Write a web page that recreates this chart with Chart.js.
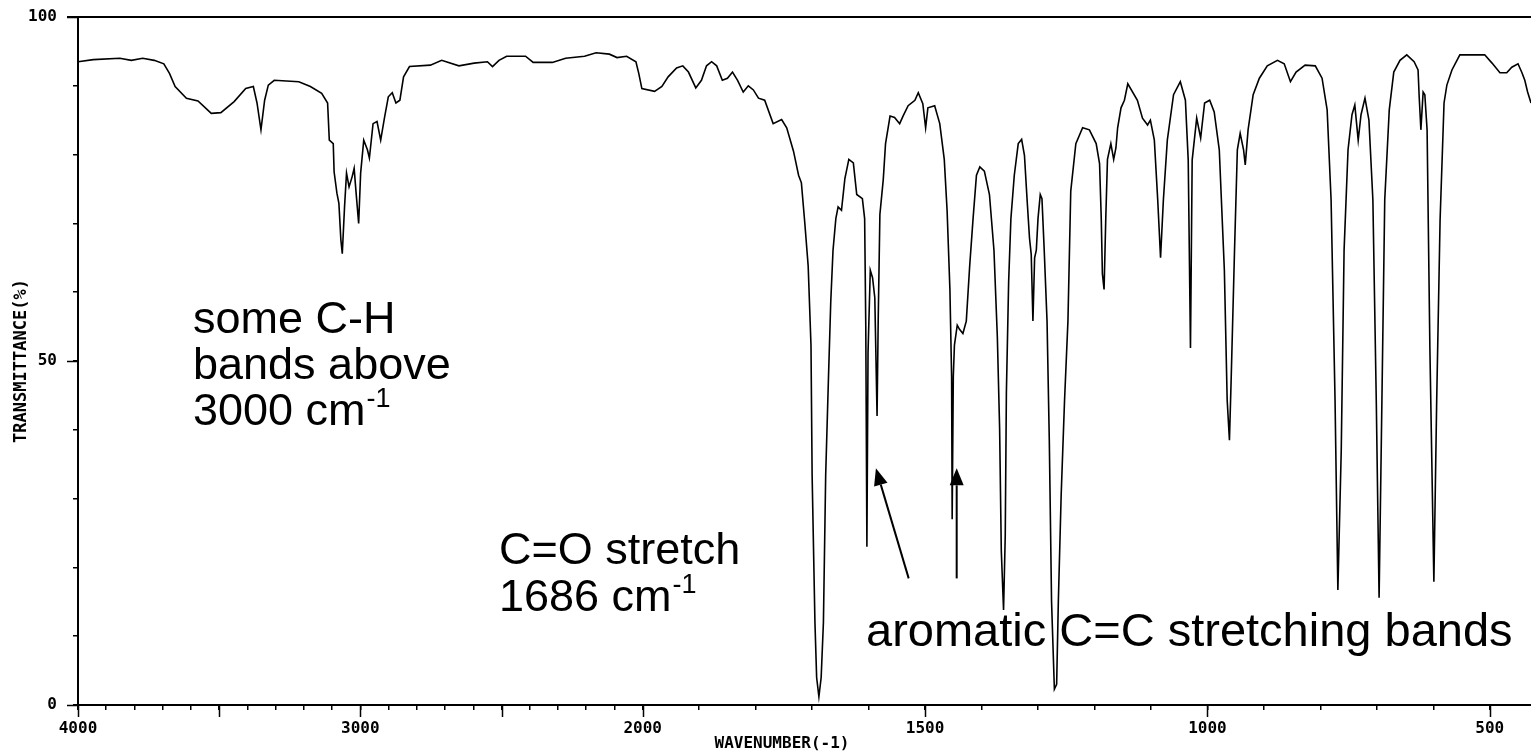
<!DOCTYPE html>
<html><head><meta charset="utf-8">
<script src="https://cdn.jsdelivr.net/npm/chart.js@4.4.1/dist/chart.umd.min.js"></script>
<style>html,body{margin:0;padding:0;background:#fff;overflow:hidden}</style>
</head><body>
<canvas id="c" width="1531" height="754"></canvas>
<script>
// ---- data ----
const wavenumbers = [4000,3946,3852,3811,3771,3730,3696,3676,3656,3616,3575,3528,3494,3447,3406,3379,3366,3352,3339,3326,3305,3218,3177,3137,3116,3110,3096,3093,3083,3076,3069,3064,3056,3049,3040,3029,3022,3015,3006,2999,2988,2975,2968,2955,2941,2928,2914,2901,2887,2874,2860,2847,2826,2752,2712,2651,2597,2550,2532,2509,2482,2415,2388,2320,2273,2206,2165,2118,2091,2057,2024,2014,2003,1979,1966,1955,1940,1929,1919,1906,1896,1887,1878,1869,1859,1850,1841,1832,1822,1813,1804,1795,1784,1769,1754,1745,1733,1724,1719,1713,1707,1702,1700,1695,1692,1688,1684,1680,1676,1671,1667,1663,1658,1654,1648,1642,1635,1627,1621,1611,1607,1605,1603,1601,1597,1593,1589,1585,1583,1580,1574,1570,1562,1554,1545,1539,1530,1518,1512,1504,1499,1495,1483,1474,1466,1461,1456,1453,1452,1450,1448,1443,1439,1433,1427,1421,1415,1409,1403,1395,1386,1378,1372,1368,1365,1361,1358,1356,1352,1348,1342,1335,1329,1324,1319,1315,1312,1309,1306,1303,1300,1296,1293,1289,1284,1280,1276,1271,1267,1264,1259,1253,1247,1242,1233,1221,1209,1197,1191,1188,1186,1183,1180,1177,1171,1166,1162,1159,1153,1147,1141,1124,1115,1106,1101,1094,1088,1083,1078,1071,1060,1048,1039,1034,1030,1027,1019,1012,1005,996,988,979,970,965,961,958,952,947,942,936,933,928,919,908,894,876,864,853,843,827,809,797,788,781,774,769,763,758,751,744,739,733,728,721,714,707,701,696,691,686,678,670,659,647,634,627,625,622,618,615,611,606,599,594,588,581,576,567,553,509,496,482,470,461,450,443,438,433,427];
const transmittance = [93.5,93.8,94.0,93.7,94.0,93.7,93.2,91.8,89.9,88.2,87.8,86.0,86.1,87.7,89.6,89.9,87.5,83.6,87.9,90.1,90.8,90.6,89.9,88.9,87.5,82.1,81.6,77.5,74.4,72.9,67.6,65.6,72.4,77.3,75.3,76.8,78.0,74.4,70.0,77.3,82.1,80.7,79.5,84.5,84.8,82.1,85.5,88.4,89.0,87.5,87.9,91.3,92.8,93.0,93.7,92.9,93.3,93.5,92.8,93.7,94.3,94.3,93.4,93.4,94.0,94.3,94.8,94.6,94.1,94.3,93.5,91.8,89.6,89.2,89.9,91.3,92.6,92.9,92.0,89.7,90.8,92.9,93.5,92.9,90.8,91.1,92.0,90.8,89.1,90.0,89.4,88.2,87.9,84.5,85.1,83.9,80.5,77.0,75.9,70.1,63.8,52.3,33.4,12.0,4.0,1.2,4.0,12.0,33.4,47.7,58.6,66.1,70.7,72.4,71.9,76.5,79.3,78.8,74.2,73.6,70.7,55.2,23.0,51.2,63.2,62.1,59.2,42.0,55.8,71.3,76.4,81.6,85.6,85.4,84.5,85.6,87.1,87.9,89.0,87.4,83.9,86.8,87.1,84.5,79.3,71.9,60.4,47.7,27.0,47.7,52.3,55.2,54.6,54.0,55.8,63.8,70.7,77.0,78.2,77.6,74.2,66.1,53.5,40.3,22.4,13.8,24.7,45.4,61.5,70.7,77.0,81.6,82.2,79.9,73.0,67.8,65.5,55.8,65.0,66.1,70.7,74.2,73.6,66.1,55.8,38.5,15.0,2.3,3.0,15.0,30.5,44.3,55.8,74.7,81.6,83.9,83.6,81.6,78.7,70.7,62.7,60.4,70.7,79.3,81.6,79.3,81.0,83.9,86.8,87.9,90.3,87.9,85.3,84.3,85.0,82.1,73.4,65.0,73.4,82.1,88.7,90.6,87.9,79.2,51.9,79.2,85.3,82.4,87.5,87.9,86.2,80.7,63.2,44.3,38.5,47.2,66.1,80.7,83.1,80.7,78.5,83.6,88.7,91.1,92.9,93.7,93.2,90.6,92.0,93.0,92.9,91.1,86.5,73.4,44.3,16.7,37.1,66.1,80.7,85.8,87.2,82.1,85.8,88.2,85.0,73.4,44.3,15.6,44.3,73.4,86.5,92.0,93.7,94.5,93.5,92.3,88.4,83.6,89.1,88.7,83.6,51.6,17.9,44.3,70.5,87.5,90.1,92.3,94.5,94.5,93.3,91.9,91.9,92.7,93.2,91.9,90.8,89.1,87.5];
const xTickWavenumbers = [4000,3900,3800,3700,3600,3500,3400,3300,3200,3100,3000,2900,2800,2700,2600,2500,2400,2300,2200,2100,2000,1900,1800,1700,1600,1500,1400,1300,1200,1100,1000,900,800,700,600,500];
const xLabelledWavenumbers = [4000,3000,2000,1500,1000,500];
const xLongTickWavenumbers = [4000,3500,3000,2500,2000,1500,1000,500];
const yTickValues = [0,10,20,30,40,50,60,70,80,90,100];
const yLabelledValues = [0,50,100];
const xAxisTitle = 'WAVENUMBER(-1)';
const yAxisTitle = 'TRANSMITTANCE(%)';
const annotationLines = [
  {text: 'some C-H', sup: '', px: 193, py: 333, size: 45},
  {text: 'bands above', sup: '', px: 193, py: 379, size: 45},
  {text: '3000 cm', sup: '-1', px: 193, py: 425, size: 45},
  {text: 'C=O stretch', sup: '', px: 499, py: 564, size: 45},
  {text: '1686 cm', sup: '-1', px: 499, py: 611, size: 45},
  {text: 'aromatic C=C stretching bands', sup: '', px: 866, py: 646, size: 47}
];
// arrows in data units (wavenumber, %T): tail -> head
const arrows = [
  {fromW: 1529, fromT: 18.4, toW: 1587, toT: 34.4},
  {fromW: 1444, fromT: 18.4, toW: 1444, toT: 34.4}
];

// the wavenumber axis is compressed by 2 above 2000 cm-1
const toAxis = w => w > 2000 ? 2000 + (w - 2000) / 2 : w;
const fromAxis = t => t > 2000 ? 2000 + (t - 2000) * 2 : t;

const points = wavenumbers.map((w, i) => ({x: toAxis(w), y: transmittance[i]}));
const tickFont = {family: 'DejaVu Sans Mono', size: 16, weight: 'bold'};

const extras = {
  id: 'extras',
  afterDraw(chart) {
    const {ctx, chartArea: ca, scales: {x, y}} = chart;
    ctx.save();
    ctx.strokeStyle = '#000';
    ctx.lineWidth = 1.5;
    ctx.beginPath();
    xLongTickWavenumbers.forEach(w => {
      const px = Math.round(x.getPixelForValue(toAxis(w))) + 0.5;
      ctx.moveTo(px, ca.bottom); ctx.lineTo(px, ca.bottom + 12);
    });
    yLabelledValues.forEach(v => {
      const py = Math.round(y.getPixelForValue(v)) + 0.5;
      ctx.moveTo(ca.left - 11, py); ctx.lineTo(ca.left, py);
    });
    ctx.stroke();
    ctx.lineWidth = 2;
    ctx.beginPath();
    ctx.moveTo(ca.left - 11, ca.top); ctx.lineTo(ca.right, ca.top);
    ctx.stroke();
    ctx.fillStyle = '#000';
    ctx.font = 'bold 16px "DejaVu Sans Mono"';
    ctx.textAlign = 'center';
    ctx.textBaseline = 'middle';
    ctx.fillText(xAxisTitle, 782, 744);
    ctx.textAlign = 'left';
    ctx.textBaseline = 'alphabetic';
    annotationLines.forEach(a => {
      ctx.font = a.size + 'px "Liberation Sans", Arial, sans-serif';
      ctx.fillText(a.text, a.px, a.py);
      if (a.sup) {
        const wd = ctx.measureText(a.text).width;
        ctx.font = Math.round(a.size * 0.6) + 'px "Liberation Sans", Arial, sans-serif';
        ctx.fillText(a.sup, a.px + wd + 1, a.py - Math.round(a.size * 0.39));
      }
    });
    ctx.lineWidth = 2;
    arrows.forEach(a => {
      const x1 = x.getPixelForValue(toAxis(a.fromW)), y1 = y.getPixelForValue(a.fromT);
      const x2 = x.getPixelForValue(toAxis(a.toW)), y2 = y.getPixelForValue(a.toT);
      const ang = Math.atan2(y2 - y1, x2 - x1);
      const hl = 17, hw = 7;
      const bx = x2 - hl * Math.cos(ang), by = y2 - hl * Math.sin(ang);
      ctx.beginPath(); ctx.moveTo(x1, y1); ctx.lineTo(bx, by); ctx.stroke();
      ctx.beginPath();
      ctx.moveTo(x2, y2);
      ctx.lineTo(bx + hw * Math.sin(ang), by - hw * Math.cos(ang));
      ctx.lineTo(bx - hw * Math.sin(ang), by + hw * Math.cos(ang));
      ctx.closePath(); ctx.fill();
    });
    ctx.restore();
  }
};

new Chart(document.getElementById('c'), {
  type: 'line',
  data: {datasets: [{data: points, borderColor: '#000', borderWidth: 1.6, pointRadius: 0, tension: 0, fill: false}]},
  options: {
    responsive: false, animation: false, events: [],
    layout: {padding: {top: 17, left: 0, right: 0, bottom: 0}},
    plugins: {legend: {display: false}, tooltip: {enabled: false}},
    scales: {
      x: {
        type: 'linear', reverse: true, min: 427, max: 3000,
        afterBuildTicks: s => { s.ticks = xTickWavenumbers.map(w => ({value: toAxis(w)})); },
        afterFit: s => { s.height = 49; s.paddingLeft = 0; s.paddingRight = 0; },
        grid: {drawOnChartArea: false, drawTicks: true, tickLength: 5, color: '#000', lineWidth: 1.5},
        border: {display: true, color: '#000', width: 2},
        ticks: {
          autoSkip: false, maxRotation: 0, color: '#000', font: tickFont, padding: 9,
          callback: v => { const w = Math.round(fromAxis(v)); return xLabelledWavenumbers.includes(w) ? String(w) : ''; }
        }
      },
      y: {
        min: 0, max: 100,
        afterBuildTicks: s => { s.ticks = yTickValues.map(v => ({value: v})); },
        afterFit: s => { s.width = 78; s.paddingTop = 0; s.paddingBottom = 0; },
        grid: {drawOnChartArea: false, drawTicks: true, tickLength: 5, color: '#000', lineWidth: 1.5},
        border: {display: true, color: '#000', width: 2},
        ticks: {
          color: '#000', font: tickFont, padding: 16,
          callback: v => yLabelledValues.includes(v) ? String(v) : ''
        },
        title: {display: true, text: yAxisTitle, color: '#000', font: {family: 'DejaVu Sans Mono', size: 17, weight: 'bold'}, padding: {top: 11, bottom: 0}}
      }
    }
  },
  plugins: [extras]
});
</script>
</body></html>
